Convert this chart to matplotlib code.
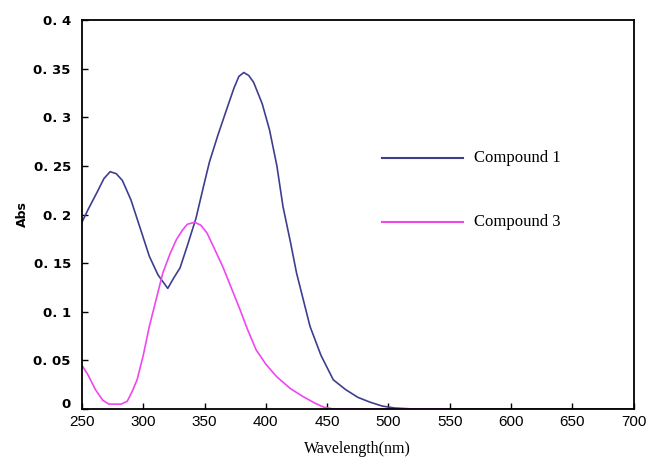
import matplotlib
matplotlib.use("Agg")
import matplotlib.pyplot as plt
import matplotlib.transforms as mtransforms

# Compound 1 (navy)
wl1 = [250, 255, 262, 268, 273, 278, 283, 290, 297, 305, 312, 320, 325, 330, 336, 343,
       349, 354, 361, 368, 374, 378, 382, 386, 390, 397, 403, 409, 414, 420, 425, 431, 436,
       445, 455, 465, 475, 485, 495, 505, 520, 550, 600, 660, 700]
ab1 = [0.192, 0.205, 0.222, 0.237, 0.244, 0.242, 0.235, 0.215, 0.188, 0.157, 0.138, 0.124,
       0.135, 0.145, 0.168, 0.196, 0.228, 0.254, 0.282, 0.308, 0.330, 0.342, 0.346, 0.343,
       0.336, 0.314, 0.287, 0.250, 0.208, 0.172, 0.140, 0.110, 0.085, 0.055, 0.030, 0.020,
       0.012, 0.007, 0.003, 0.001, 0.0, 0.0, 0.0, 0.0, 0.0]

# Compound 3 (magenta)
wl3 = [250, 255, 261, 267, 272, 276, 282, 287, 291, 295, 300, 305, 311, 316, 322, 327,
       332, 336, 342, 347, 352, 358, 365, 372, 379, 385, 392, 400, 409, 420, 430, 440,
       447, 455, 500, 545]
ab3 = [0.045, 0.035, 0.020, 0.009, 0.005, 0.005, 0.005, 0.008, 0.018, 0.030, 0.055, 0.085,
       0.115, 0.140, 0.160, 0.174, 0.184, 0.190, 0.192, 0.189, 0.181, 0.165, 0.146, 0.124,
       0.102, 0.082, 0.061, 0.046, 0.033, 0.021, 0.013, 0.006, 0.002, 0.0, 0.0, 0.0]

xticks = [250, 300, 350, 400, 450, 500, 550, 600, 650, 700]
yticks = [0, 0.05, 0.1, 0.15, 0.2, 0.25, 0.3, 0.35, 0.4]
ytick_labels = ["0", "0. 05", "0. 1", "0. 15", "0. 2", "0. 25", "0. 3", "0. 35", "0. 4"]

c1 = "#3e3e90"
c3 = "#f046f0"

fig = plt.figure(figsize=(6.5, 4.61), dpi=100)
ax = fig.add_axes([0.126, 0.1128, 0.849, 0.8438])

ax.plot(wl1, ab1, color=c1, lw=1.2)
ax.plot(wl3, ab3, color=c3, lw=1.2)

ax.set_xlim(250, 700)
ax.set_ylim(0, 0.4)
ax.set_xticks(xticks)
ax.set_xticklabels([str(t) for t in xticks], family="Liberation Sans", fontsize=11)
ax.set_yticks(yticks)
ax.set_yticklabels(ytick_labels, family="DejaVu Sans", fontsize=9.5, fontweight="bold")
ax.tick_params(direction="in", length=4, width=1, top=False, right=False)
ax.tick_params(axis="x", pad=4)
ax.tick_params(axis="y", pad=8)
for s in ax.spines.values():
    s.set_linewidth(1.3)

# lift the "0" label on the y axis a little, as in the reference
lbl0 = ax.get_yticklabels()[0]
lbl0.set_transform(lbl0.get_transform() + mtransforms.ScaledTranslation(0, 6 / 100, fig.dpi_scale_trans))

# legend drawn inside the axes
ax.plot([495, 561], [0.258, 0.258], color=c1, lw=1.5)
ax.text(570, 0.258, "Compound 1", family="Liberation Serif", fontsize=12, va="center", ha="left")
ax.plot([495, 561], [0.192, 0.192], color=c3, lw=1.5)
ax.text(570, 0.192, "Compound 3", family="Liberation Serif", fontsize=12, va="center", ha="left")

ax.set_xlabel("Wavelength(nm)", family="Liberation Serif", fontsize=11.5, labelpad=9)
ax.set_ylabel("Abs", family="DejaVu Sans", fontsize=9, fontweight="bold", labelpad=3.5)

fig.savefig("out.png", dpi=100)
